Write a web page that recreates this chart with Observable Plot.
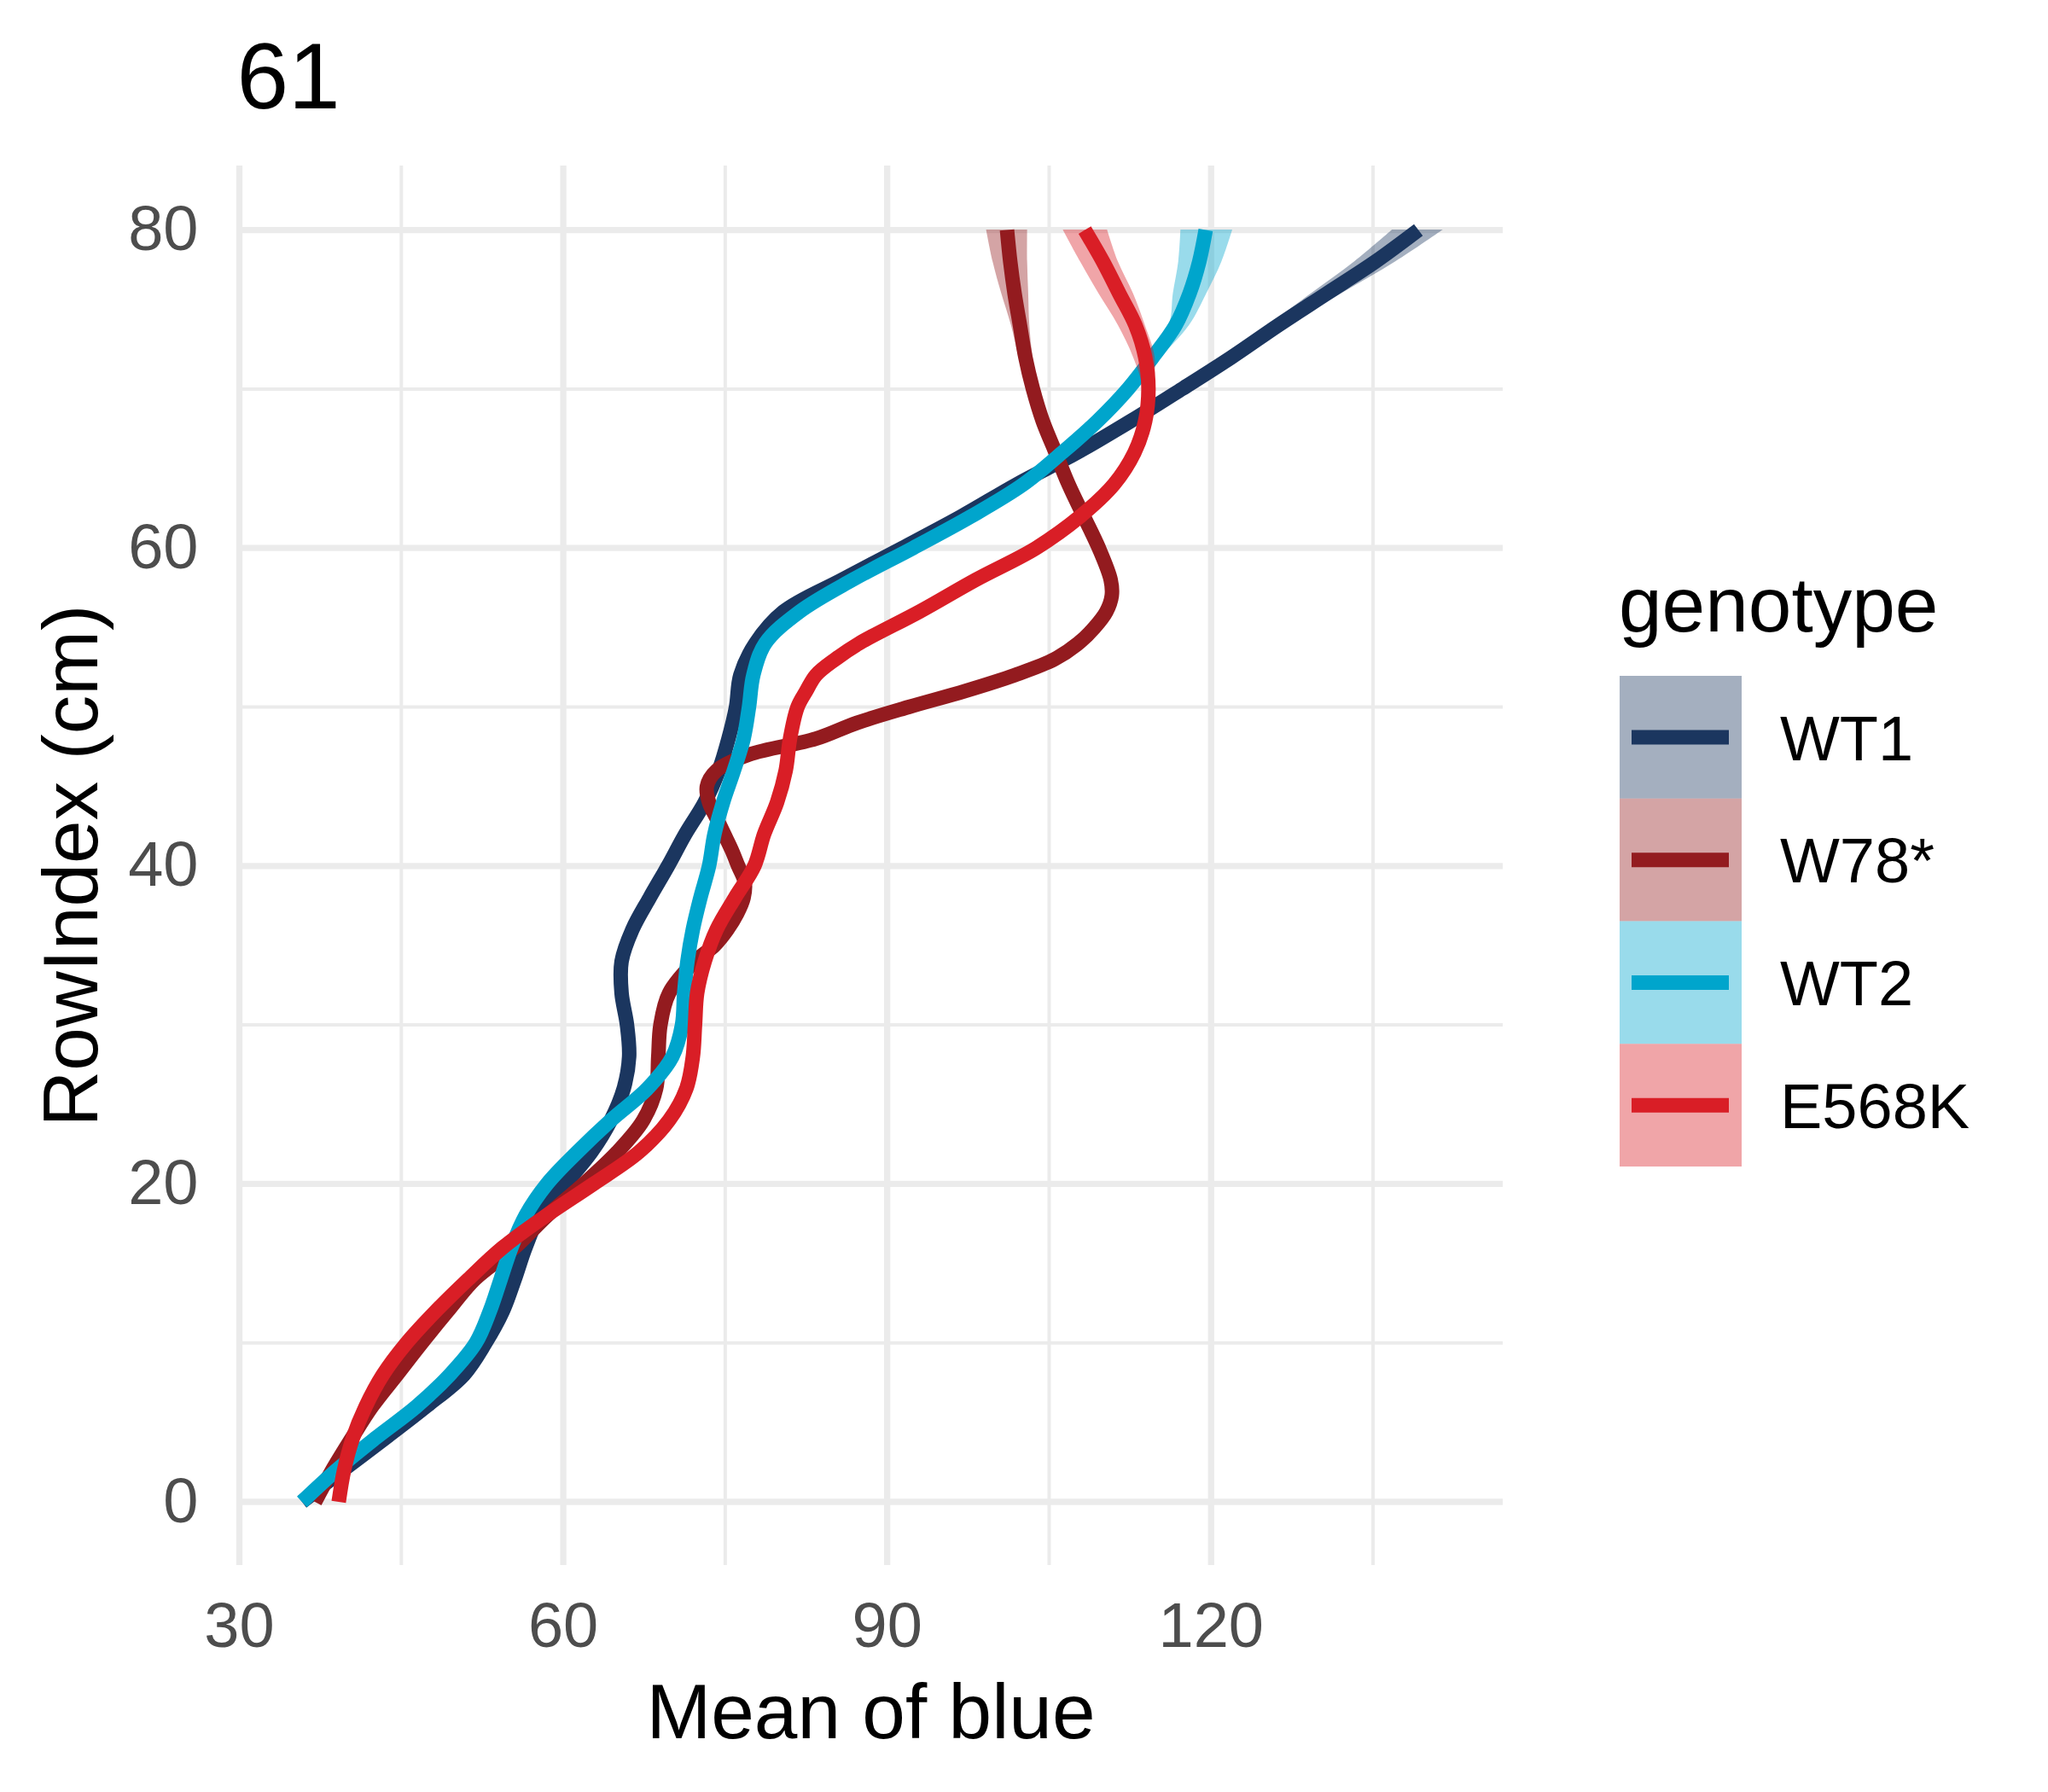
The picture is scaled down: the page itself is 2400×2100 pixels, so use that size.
<!DOCTYPE html>
<html>
<head>
<meta charset="utf-8">
<script src="https://cdn.jsdelivr.net/npm/d3@7"></script>
<script src="https://cdn.jsdelivr.net/npm/@observablehq/plot@0.6"></script>
<style>
  html, body { margin: 0; padding: 0; background: #ffffff; }
  #wrap { position: relative; width: 2400px; height: 2100px; }
  #wrap svg { display: block; }
  #legend { position: absolute; left: 0; top: 0; pointer-events: none; }
</style>
</head>
<body>
<div id="wrap"></div>
<script>
// ---- chart texts ----
const chartTitle = "61";
const xTitle = "Mean of blue";
const yTitle = "RowIndex (cm)";
const legendTitle = "genotype";

// ---- categories & colours ----
const genotypes = ["WT1", "W78*", "WT2", "E568K"];
const lineColors = ["#1b365f", "#931b1f", "#00a5cc", "#d91e26"];

// ---- ticks ----
const xMajor = [30, 60, 90, 120];
const xMinor = [45, 75, 105, 135];
const yMajor = [0, 20, 40, 60, 80];
const yMinor = [10, 30, 50, 70];

// ---- smoothed curves (RowIndex -> mean of blue) ----
const wt1Y = [0,2,4,6,8,10,12,14,16,18,20,22,24,26,28,30,32,34,36,38,40,42,44,46,48,50,52,54,56,58,60,62,64,66,68,70,72,74,76,78,80];
const wt1X = [35.8,39.6,43.5,47.3,50.8,52.8,54.4,55.5,56.5,57.8,60.2,62.6,64.4,65.6,66.1,65.9,65.4,65.4,66.4,68.0,69.7,71.3,73.1,74.4,75.3,76.0,76.4,77.8,80.4,85.8,91.4,96.9,102.0,107.6,112.6,117.3,121.9,126.2,130.7,135.2,139.2];

const w78Y = [0,2,4,6,8,10,12,14,16,18,20,22,24,26,28,30,32,34,35,36,37,38,39,40,41,42,43,44,45,46,47,48,49,50,51,52,53,54,55,56,57,58,60,62,64,66,68,70,72,74,76,78,80];
const w78X = [37.0,38.6,40.4,42.3,44.6,46.9,49.3,51.8,55.5,58.5,61.9,65.0,67.4,68.6,68.8,69.0,69.8,72.2,74.0,75.2,76.1,76.7,76.8,76.2,75.6,74.9,74.2,73.5,73.3,74.2,77.2,83.4,87.2,92.0,97.2,101.8,105.5,107.7,109.2,110.3,110.8,110.7,109.6,108.2,106.8,105.6,104.4,103.5,102.8,102.3,101.8,101.4,101.1];

const wt2Y = [0,2,4,6,8,10,12,14,16,18,20,22,24,26,28,30,32,34,36,38,40,42,44,46,48,50,52,54,56,58,60,62,64,66,68,70,72,74,76,78,80];
const wt2X = [35.8,39.0,42.6,46.4,49.5,51.9,53.2,54.2,55.2,56.5,58.5,61.3,64.4,67.8,70.1,71.0,71.2,71.5,72.0,72.7,73.5,74.0,74.8,75.8,76.7,77.2,77.6,78.7,81.9,86.8,92.4,97.8,102.6,106.2,109.5,112.3,114.6,116.7,118.0,118.9,119.5];

const e568Y = [0,2,4,6,8,10,12,14,16,18,20,22,24,26,28,30,32,34,36,38,40,42,44,46,48,50,51,52,53,54,56,58,60,62,64,66,68,70,72,74,76,78,80];
const e568X = [39.2,39.7,40.5,41.7,43.3,45.5,48.2,51.2,54.4,58.4,62.8,67.0,69.8,71.4,72.0,72.2,72.4,73.1,74.2,75.9,77.7,78.6,79.8,80.6,81.0,81.7,82.5,83.4,85.2,87.4,93.0,98.2,103.8,107.9,111.0,112.9,113.9,114.2,113.9,113.0,111.5,110.0,108.3];

// ---- confidence bands (visible near the top) ----
const bandY = [68, 70, 72, 74, 76, 78, 80];
const wt1Lo  = [112.4,117.0,121.3,125.3,129.3,133.3,136.8];
const wt1Hi  = [112.8,117.6,122.5,127.1,132.1,137.1,141.5];
const w78Lo  = [103.9,103.0,102.2,101.5,100.6,99.8,99.2];
const w78Hi  = [104.9,104.0,103.5,103.2,103.1,103.0,103.0];
const wt2Lo  = [109.2,111.8,113.9,116.1,116.5,117.0,117.2];
const wt2Hi  = [109.8,112.8,115.4,118.0,119.6,121.0,122.0];
const e568Lo = [113.5,113.7,112.8,111.4,109.6,107.9,106.3];
const e568Hi = [114.3,114.7,114.8,113.9,112.8,111.4,110.4];

const curveY = [wt1Y, w78Y, wt2Y, e568Y];
const curveX = [wt1X, w78X, wt2X, e568X];
const bandLo = [wt1Lo, w78Lo, wt2Lo, e568Lo];
const bandHi = [wt1Hi, w78Hi, wt2Hi, e568Hi];

const FONT = "'Liberation Sans', Arial, Helvetica, sans-serif";

const seriesMarks = [];
genotypes.forEach((g, i) => {
  const band = bandY.map((y, k) => ({genotype: g, y, lo: bandLo[i][k], hi: bandHi[i][k]}));
  const line = curveY[i].map((y, k) => ({genotype: g, y, x: curveX[i][k]}));
  seriesMarks.push(
    Plot.areaX(band, {y: "y", x1: "lo", x2: "hi", fill: lineColors[i], fillOpacity: 0.4, curve: "catmull-rom"}),
    Plot.line(line, {x: "x", y: "y", stroke: lineColors[i], strokeWidth: 17, strokeLinecap: "butt", strokeLinejoin: "round", curve: "catmull-rom"})
  );
});

const plot = Plot.plot({
  width: 2400,
  height: 2100,
  marginLeft: 279,
  marginRight: 639,
  marginTop: 194,
  marginBottom: 266,
  x: {domain: [29.92, 147.05]},
  y: {domain: [-4.0, 84.03]},
  style: {fontFamily: FONT, background: "#ffffff", overflow: "visible"},
  marks: [
    Plot.ruleX(xMinor, {stroke: "#ebebeb", strokeWidth: 4}),
    Plot.ruleY(yMinor, {stroke: "#ebebeb", strokeWidth: 4}),
    Plot.ruleX(xMajor, {stroke: "#ebebeb", strokeWidth: 7.3}),
    Plot.ruleY(yMajor, {stroke: "#ebebeb", strokeWidth: 7.3}),
    Plot.axisX({ticks: xMajor, tickSize: 0, tickPadding: 43, fontSize: 74, fill: "#4d4d4d", label: null}),
    Plot.axisY({ticks: yMajor, tickSize: 0, tickPadding: 47, fontSize: 74, fill: "#4d4d4d", label: null}),
    ...seriesMarks,
    Plot.text([chartTitle], {frameAnchor: "top-left", text: d => d, dx: -2, dy: -68, lineAnchor: "bottom", textAnchor: "start", fontSize: 109, fill: "#000000"}),
    Plot.text([xTitle], {frameAnchor: "bottom", text: d => d, dy: 202, lineAnchor: "bottom", textAnchor: "middle", fontSize: 91, fill: "#000000"}),
    Plot.text([yTitle], {frameAnchor: "left", text: d => d, rotate: -90, dx: -166, lineAnchor: "bottom", textAnchor: "middle", fontSize: 91, fill: "#000000"})
  ]
});

const wrap = document.getElementById("wrap");
wrap.appendChild(plot);

// ---- legend ----
const legend = d3.create("svg")
  .attr("id", "legend")
  .attr("width", 2400)
  .attr("height", 2100)
  .style("font-family", FONT);

legend.append("text")
  .attr("x", 1897).attr("y", 740)
  .attr("font-size", 91).attr("fill", "#000000")
  .text(legendTitle);

const keyX = 1898, keyTop = 792, keyW = 143, keyH = 143.75;
genotypes.forEach((g, i) => {
  const top = keyTop + i * keyH;
  const cy = top + keyH / 2;
  legend.append("rect")
    .attr("x", keyX).attr("y", top).attr("width", keyW).attr("height", keyH)
    .attr("fill", lineColors[i]).attr("fill-opacity", 0.4);
  legend.append("line")
    .attr("x1", 1912).attr("x2", 2026).attr("y1", cy).attr("y2", cy)
    .attr("stroke", lineColors[i]).attr("stroke-width", 17).attr("stroke-linecap", "butt");
  legend.append("text")
    .attr("x", 2086).attr("y", cy).attr("dy", "0.36em")
    .attr("font-size", 74).attr("fill", "#000000")
    .text(g);
});

wrap.appendChild(legend.node());
</script>
</body>
</html>
